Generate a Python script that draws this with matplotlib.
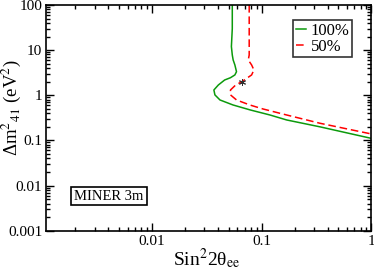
import matplotlib
matplotlib.use("Agg")
import matplotlib.pyplot as plt
from matplotlib.ticker import LogLocator, FixedLocator, FixedFormatter, NullFormatter

plt.rcParams['font.family'] = ['Liberation Serif', 'DejaVu Serif']
plt.rcParams['mathtext.fontset'] = 'stix'

# 100% curve (green)
g_x = [0.054, 0.054, 0.053, 0.054, 0.055, 0.057, 0.059, 0.057, 0.052, 0.046, 0.0403, 0.0367,
       0.0375, 0.0417, 0.0548, 0.079, 0.119, 0.169, 0.34, 1.0]
g_y = [100, 30, 12, 7.8, 6.05, 4.7, 3.33, 2.82, 2.45, 2.18, 1.69, 1.31,
       1.02, 0.787, 0.61, 0.472, 0.366, 0.284, 0.20, 0.111]
# 50% curve (red dashed)
r_x = [0.077, 0.077, 0.077, 0.0755, 0.081, 0.085, 0.081, 0.066, 0.058, 0.052,
       0.052, 0.059, 0.078, 0.103, 0.169, 0.34, 1.0]
r_y = [100, 30, 7.8, 6.05, 4.7, 3.64, 2.82, 2.0, 1.69, 1.31,
       1.02, 0.787, 0.61, 0.497, 0.366, 0.24, 0.139]
# best-fit point
bf_x = [0.066]
bf_y = [2.0]

x_ticks = [0.01, 0.1, 1]
x_ticklabels = ['0.01', '0.1', '1']
y_ticks = [0.001, 0.01, 0.1, 1, 10, 100]
y_ticklabels = ['0.001', '0.01', '0.1', '1', '10', '100']

fig = plt.figure(figsize=(3.74, 2.76), dpi=100)
ax = fig.add_axes([0.1238, 0.164, 0.8692, 0.818])

ax.plot(g_x, g_y, color='#0c9a0c', lw=1.1, label='100%')
ax.plot(r_x, r_y, color='#ff0000', lw=1.1, dashes=(5, 2.5), label='50%')
ax.plot(bf_x, bf_y, marker=(6, 2, 0), color='#303030', ms=5, mew=0.7, ls='none')

ax.set_xscale('log')
ax.set_yscale('log')
ax.set_xlim(0.00109, 1)
ax.set_ylim(0.001, 100)

ax.xaxis.set_major_locator(FixedLocator(x_ticks))
ax.xaxis.set_major_formatter(FixedFormatter(x_ticklabels))
ax.yaxis.set_major_locator(FixedLocator(y_ticks))
ax.yaxis.set_major_formatter(FixedFormatter(y_ticklabels))
ax.xaxis.set_minor_locator(LogLocator(base=10, subs=range(2, 10), numticks=20))
ax.yaxis.set_minor_locator(LogLocator(base=10, subs=range(2, 10), numticks=20))
ax.xaxis.set_minor_formatter(NullFormatter())
ax.yaxis.set_minor_formatter(NullFormatter())

ax.tick_params(which='both', direction='in', top=True, right=True, width=1.0, labelsize=11, pad=3)
ax.tick_params(which='major', length=6)
ax.tick_params(which='minor', length=3)
for s in ax.spines.values():
    s.set_linewidth(1.2)

ax.set_xlabel('Sin$^{2}$2θ$_{\\mathrm{ee}}$', fontsize=14, va='baseline')
ax.xaxis.set_label_coords(207 / 374, 1 - 265 / 276, transform=fig.transFigure)
ax.set_ylabel('Δm$^{2}$$_{41}$ (eV$^{2}$)', fontsize=13.5, va='baseline')
ax.yaxis.set_label_coords(17 / 374, 1 - 108 / 276, transform=fig.transFigure)

leg = ax.legend(loc='upper right', bbox_to_anchor=(0.940, 0.933), fontsize=12, frameon=True,
                fancybox=False, edgecolor='black', handlelength=0.6, handletextpad=0.3,
                borderpad=0.15, labelspacing=0.0, borderaxespad=0)
leg.get_frame().set_linewidth(1.2)

ax.text(0.086, 0.138, 'MINER 3m', transform=ax.transAxes, fontsize=10.5,
        bbox=dict(boxstyle='square,pad=0.2', fc='white', ec='black', lw=1.2))

fig.savefig('out.png', dpi=100)
